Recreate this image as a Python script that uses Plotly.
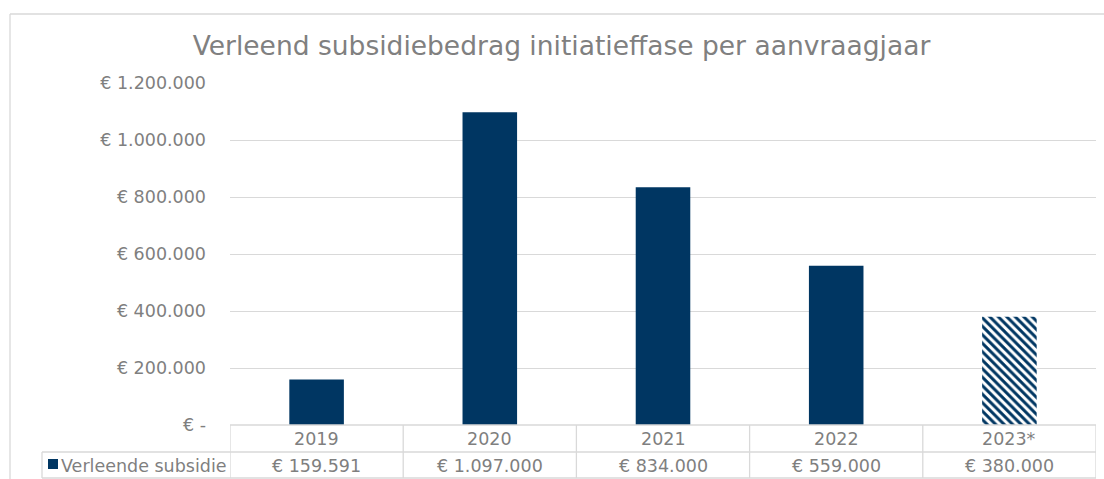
import plotly.graph_objects as go

years = ["2019", "2020", "2021", "2022", "2023*"]
values = [159591, 1097000, 834000, 559000, 380000]
series_name = "Verleende subsidie"
title = "Verleend subsidiebedrag initiatieffase per aanvraagjaar"
y_ticks = [0, 200000, 400000, 600000, 800000, 1000000, 1200000]

NAVY = "#003662"
GRID = "#d9d9d9"
TXT = "#7f7f7f"
FONT = "DejaVu Sans"
FS = 17.5

W, H = 1104, 479
L, R = 230, 1096
T, B = 83, 425


def eur(v):
    if v == 0:
        return "€ -"
    return "€ " + f"{v:,}".replace(",", ".")


def px_x(p):
    return (p - L) / (R - L)


def px_y(p):
    return (B - p) / (B - T)


fig = go.Figure()
# solid bars (final years)
fig.add_trace(go.Bar(
    x=years[:-1],
    y=values[:-1],
    name=series_name,
    marker=dict(color=NAVY, line=dict(width=0)),
    width=0.315,
    showlegend=False,
    hoverinfo="x+y",
))
# hatched bar (provisional year)
fig.add_trace(go.Bar(
    x=years[-1:],
    y=values[-1:],
    name=series_name,
    marker=dict(
        color="white",
        line=dict(width=0),
        pattern=dict(shape="\\", fgcolor=NAVY, bgcolor="white",
                     size=6, solidity=0.5, fillmode="overlay",
                     fgopacity=1),
    ),
    width=0.315,
    showlegend=False,
    hoverinfo="x+y",
))

shapes = []
line = dict(color=GRID, width=1.3)
# outer chart border (top and left only visible)
shapes.append(dict(type="line", xref="paper", yref="paper",
                   x0=px_x(10), x1=px_x(W + 5), y0=px_y(14), y1=px_y(14), line=line))
shapes.append(dict(type="line", xref="paper", yref="paper",
                   x0=px_x(10), x1=px_x(10), y0=px_y(14), y1=px_y(H + 5), line=line))
# table horizontal lines
shapes.append(dict(type="line", xref="paper", yref="paper",
                   x0=0, x1=1, y0=px_y(425), y1=px_y(425), line=line))
for yy in (452, 478):
    shapes.append(dict(type="line", xref="paper", yref="paper",
                       x0=px_x(42), x1=1, y0=px_y(yy), y1=px_y(yy), line=line))
# table vertical lines
shapes.append(dict(type="line", xref="paper", yref="paper",
                   x0=px_x(42), x1=px_x(42), y0=px_y(452), y1=px_y(478), line=line))
for i in range(len(years) + 1):
    shapes.append(dict(type="line", xref="x", yref="paper",
                       x0=i - 0.5, x1=i - 0.5, y0=px_y(425), y1=px_y(478), line=line))
# legend key square
shapes.append(dict(type="rect", xref="paper", yref="paper",
                   x0=px_x(48), x1=px_x(58), y0=px_y(459), y1=px_y(469),
                   fillcolor=NAVY, line=dict(width=0)))

annotations = []
for i, (yr, v) in enumerate(zip(years, values)):
    annotations.append(dict(x=i, y=px_y(438.5), xref="x", yref="paper",
                            text=yr, showarrow=False, yanchor="middle",
                            font=dict(family=FONT, size=FS, color=TXT)))
    annotations.append(dict(x=i, y=px_y(465.5), xref="x", yref="paper",
                            text=eur(v), showarrow=False, yanchor="middle",
                            font=dict(family=FONT, size=FS, color=TXT)))
annotations.append(dict(x=px_x(59), y=px_y(465.5), xref="paper", yref="paper",
                        text=series_name, showarrow=False, xanchor="left",
                        yanchor="middle",
                        font=dict(family=FONT, size=FS, color=TXT)))

fig.update_layout(
    width=W, height=H,
    margin=dict(l=L, r=W - R, t=T, b=H - B),
    paper_bgcolor="white",
    plot_bgcolor="white",
    barmode="overlay",
    title=dict(text=title, x=561.5 / W, xref="container", xanchor="center",
               y=1 - 46 / H, yref="container", yanchor="middle",
               font=dict(family=FONT, size=26.5, color="#808080")),
    font=dict(family=FONT, size=FS, color=TXT),
    xaxis=dict(type="category", categoryorder="array", categoryarray=years,
               range=[-0.5, len(years) - 0.5],
               showticklabels=False, showgrid=False, zeroline=False,
               showline=False, fixedrange=True),
    yaxis=dict(range=[0, 1200000], tickvals=y_ticks,
               ticktext=[eur(v) for v in y_ticks],
               showgrid=True, gridcolor=GRID, gridwidth=1.3,
               zeroline=False, showline=False,
               ticklabelstandoff=23,
               tickfont=dict(family=FONT, size=FS, color=TXT)),
    shapes=shapes,
    annotations=annotations,
)

fig.write_html("out.html",
               config={"displayModeBar": False},
               post_script="document.body.style.margin='0';document.body.style.overflow='hidden';")
